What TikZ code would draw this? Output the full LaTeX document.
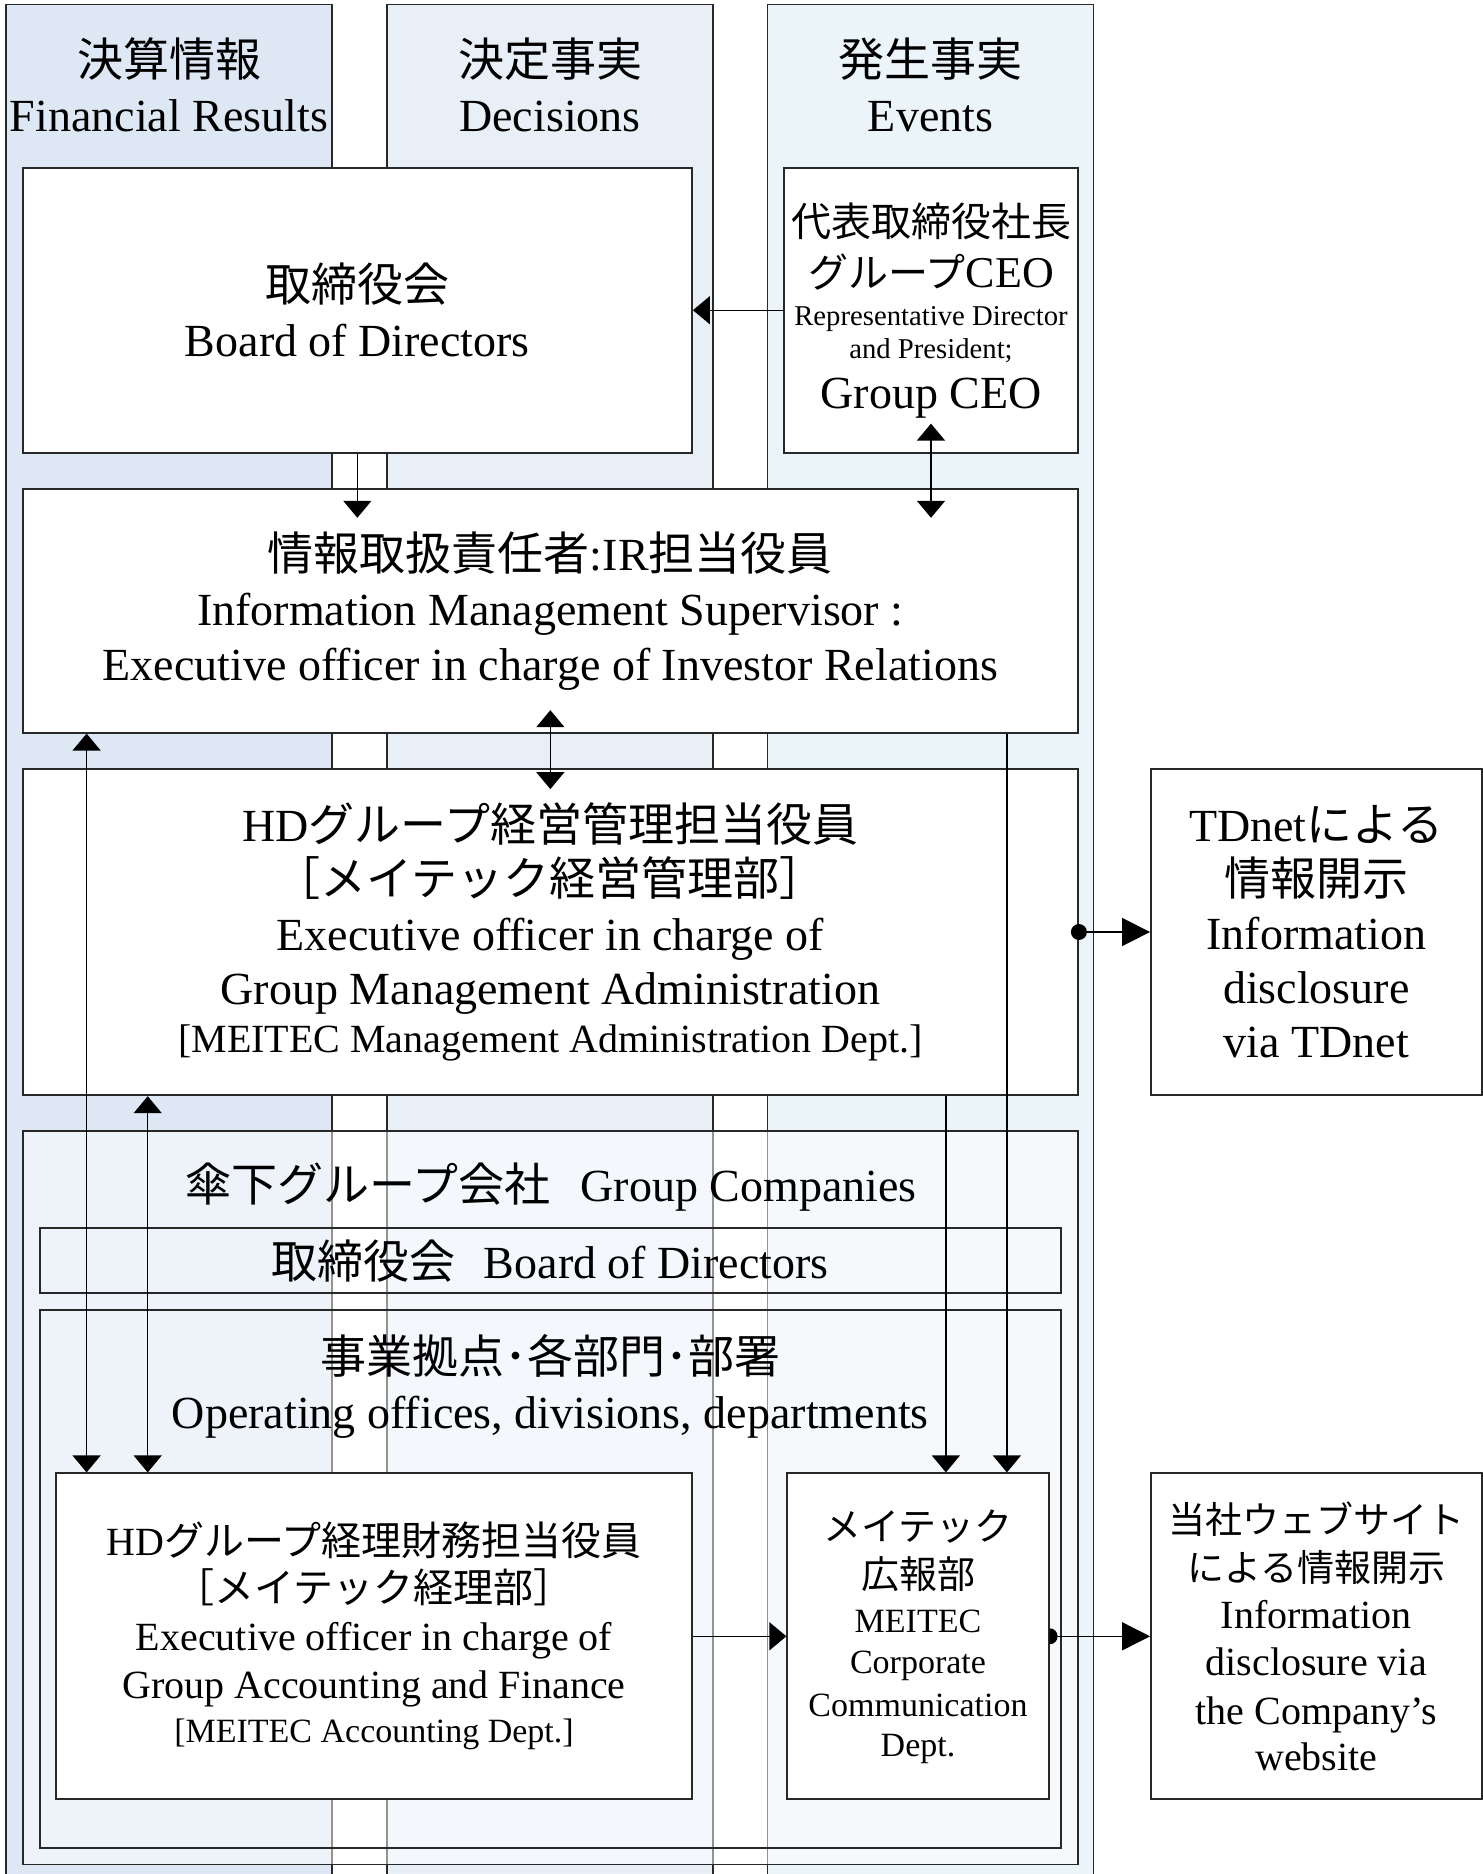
\documentclass[tikz,border=0pt]{standalone}
\usepackage{fontspec}
\setmainfont{Liberation Serif}
\newfontfamily\jpfont{Noto Sans CJK JP}
\newcommand\J[1]{{\jpfont #1}}
\newcommand\myfs[2]{\fontsize{#1}{#2}\selectfont}
\usetikzlibrary{arrows.meta,calc}
\lineskiplimit=-1000pt
\parindent=0pt
\definecolor{colA}{RGB}{222,232,245}
\definecolor{colB}{RGB}{233,239,247}
\definecolor{colC}{RGB}{235,244,248}
\definecolor{edgeC}{RGB}{40,40,40}
\tikzset{
  tipS/.tip={Triangle[length=17pt,width=28pt]},
  tipB/.tip={Triangle[length=28pt,width=28pt]},
  colline/.style={draw=edgeC, line width=1.6pt},
  box/.style={draw=edgeC, line width=1.8pt, fill=white, inner sep=0pt, align=flush center,
    font=\myfs{46}{55}},
  frame/.style={draw=edgeC, line width=1.8pt, inner sep=0pt},
  txt/.style={inner sep=0pt, align=flush center, font=\myfs{46}{55}},
  conn/.style={draw=black, line width=1.4pt},
}
\begin{document}
\begin{tikzpicture}[x=1pt,y=1pt]
\useasboundingbox (0,0) rectangle (1483,-1874);
% ---------- columns ----------
\begin{scope}
\clip (0,0) rectangle (1483,-1874);
\fill[colA] (6,-4.3) rectangle (332,-1880);
\fill[colB] (387,-4.3) rectangle (713,-1880);
\fill[colC] (767.5,-4.3) rectangle (1093.5,-1880);
\draw[colline] (6,-1880) -- (6,-4.3) -- (332,-4.3) -- (332,-1880);
\draw[colline] (387,-1880) -- (387,-4.3) -- (713,-4.3) -- (713,-1880);
\draw[colline] (767.5,-1880) -- (767.5,-4.3) -- (1093.5,-4.3) -- (1093.5,-1880);
\end{scope}
\node[txt, text width=326pt] (h1) at (169,-85) {\J{決算情報}\par Financial Results};
\node[txt, text width=326pt] (h2) at (550,-85) {\J{決定事実}\par Decisions};
\node[txt, text width=326pt] (h3) at (930.5,-85) {\J{発生事実}\par Events};
% ---------- group companies frame ----------
\node[frame, fill=white, fill opacity=0.5, minimum width=1055pt, minimum height=733.8pt] (gc) at (550.2,-1497.6) {};
\node[txt, anchor=base] (gct) at (551,-1201.7) {\J{傘下グループ会社}\hspace{30pt}Group Companies};
\node[frame, minimum width=1020.7pt, minimum height=65pt, font=\myfs{46}{55}] (band) at (550.35,-1260.8) {\J{取締役会}\hspace{28pt}Board of Directors};
\node[frame, minimum width=1020.7pt, minimum height=538.3pt] (ops) at (550.35,-1579.15) {};
\node[txt, text width=1000pt] (opst) at (550.35,-1386) {\J{事業拠点･各部門･部署}\par Operating offices, divisions, departments};
% ---------- boxes ----------
\node[box, minimum width=669.3pt, minimum height=285.3pt, text width=669.3pt] (bod) at (357.35,-310.35)
  {\J{取締役会}\par Board of Directors};
\node[box, minimum width=294pt, minimum height=285pt, text width=294pt] (ceo) at (931,-310.2)
  {{\myfs{40}{46}\J{代表取締役社長}\par}
   {\myfs{40}{51}\J{グループ}\fontsize{44}{51}\selectfont CEO\par}
   {\myfs{28.7}{38}Representative Director\par}
   {\myfs{28.7}{33}and President;\par}
   {\myfs{46}{50}Group CEO\par}};
\node[box, minimum width=1055.3pt, minimum height=244pt, text width=1055.3pt] (ims) at (550.35,-610.7)
  {\J{情報取扱責任者}:IR\J{担当役員}\par
   Information Management Supervisor :\par
   Executive officer in charge of Investor Relations};
\node[box, minimum width=1055.3pt, minimum height=326.6pt, text width=1055.3pt] (hd) at (550.35,-932)
  {{\myfs{46}{54}HD\J{グループ経営管理担当役員}\par}
   {\myfs{46}{54}\J{［メイテック経営管理部］}\par}
   {\myfs{46}{55}Executive officer in charge of\par}
   {\myfs{46}{54}Group Management Administration\par}
   {\myfs{40}{48}[MEITEC Management Administration Dept.]\par}};
\node[box, minimum width=330.6pt, minimum height=326.6pt, text width=330.6pt, font=\myfs{46}{54}] (tdnet) at (1316.3,-932)
  {TDnet\J{による}\par \J{情報開示}\par Information\par disclosure\par via TDnet};
\node[box, minimum width=636.6pt, minimum height=326pt, text width=636.6pt] (acc) at (374,-1636.3)
  {{\myfs{40}{47}HD\J{グループ経理財務担当役員}\par}
   {\myfs{40}{47}\J{［メイテック経理部］}\par}
   {\myfs{40}{48}Executive officer in charge of\par}
   {\myfs{40}{48}Group Accounting and Finance\par}
   {\myfs{34}{44}[MEITEC Accounting Dept.]\par}};
\node[box, minimum width=261.4pt, minimum height=326pt, text width=261.4pt] (pr) at (918,-1636.3)
  {{\myfs{38}{46}\J{メイテック}\par}
   {\myfs{38}{48}\J{広報部}\par}
   {\myfs{34}{44}MEITEC\par}
   {\myfs{34}{41}Corporate\par}
   {\myfs{34}{43}Communication\par}
   {\myfs{34}{40}Dept.\par}};
\node[box, minimum width=330.6pt, minimum height=326pt, text width=330.6pt] (web) at (1316.3,-1636.3)
  {{\myfs{37}{46}\J{当社ウェブサイト}\par}
   {\myfs{37}{48}\J{による情報開示}\par}
   {\myfs{40}{47}Information\par}
   {\myfs{40}{47}disclosure via\par}
   {\myfs{40}{49}the Company’s\par}
   {\myfs{40}{46}website\par}};
% ---------- connectors ----------
\draw[conn, -tipS] (ceo.west) -- (ceo.west -| bod.east);
\draw[conn, -tipS] (bod.south) -- ($(bod.south |- ims.north)+(0,-30)$);
\draw[conn, tipS-tipS] ($(ceo.south)+(0,30)$) -- ($(ceo.south |- ims.north)+(0,-30)$);
\draw[conn, tipS-tipS] ($(ims.south)+(0,23.4)$) -- ($(ims.south |- hd.north)+(0,-21.3)$);
\coordinate (L1) at ($(ims.south west)+(64.8,0)$);
\draw[conn, tipS-tipS] (L1) -- (L1 |- acc.north);
\coordinate (L2) at ($(hd.south west)+(125.9,0)$);
\draw[conn, tipS-tipS] (L2) -- (L2 |- acc.north);
\coordinate (R1) at ($(hd.south east)+(-133,0)$);
\draw[conn, -tipS] (R1) -- (R1 |- pr.north);
\coordinate (R2) at ($(ims.south east)+(-72,0)$);
\draw[conn, -tipS] (R2) -- (R2 |- pr.north);
\draw[conn, -tipB] (hd.east) -- (hd.east -| tdnet.west);
\fill (hd.east) circle[radius=8pt];
\draw[conn, -tipS] (acc.east) -- (acc.east -| pr.west);
\draw[conn, -tipB] (pr.east) -- (pr.east -| web.west);
\begin{scope}
\clip (pr.north east) rectangle (1100,-1800);
\fill (pr.east) circle[radius=8pt];
\end{scope}
\end{tikzpicture}
\end{document}
